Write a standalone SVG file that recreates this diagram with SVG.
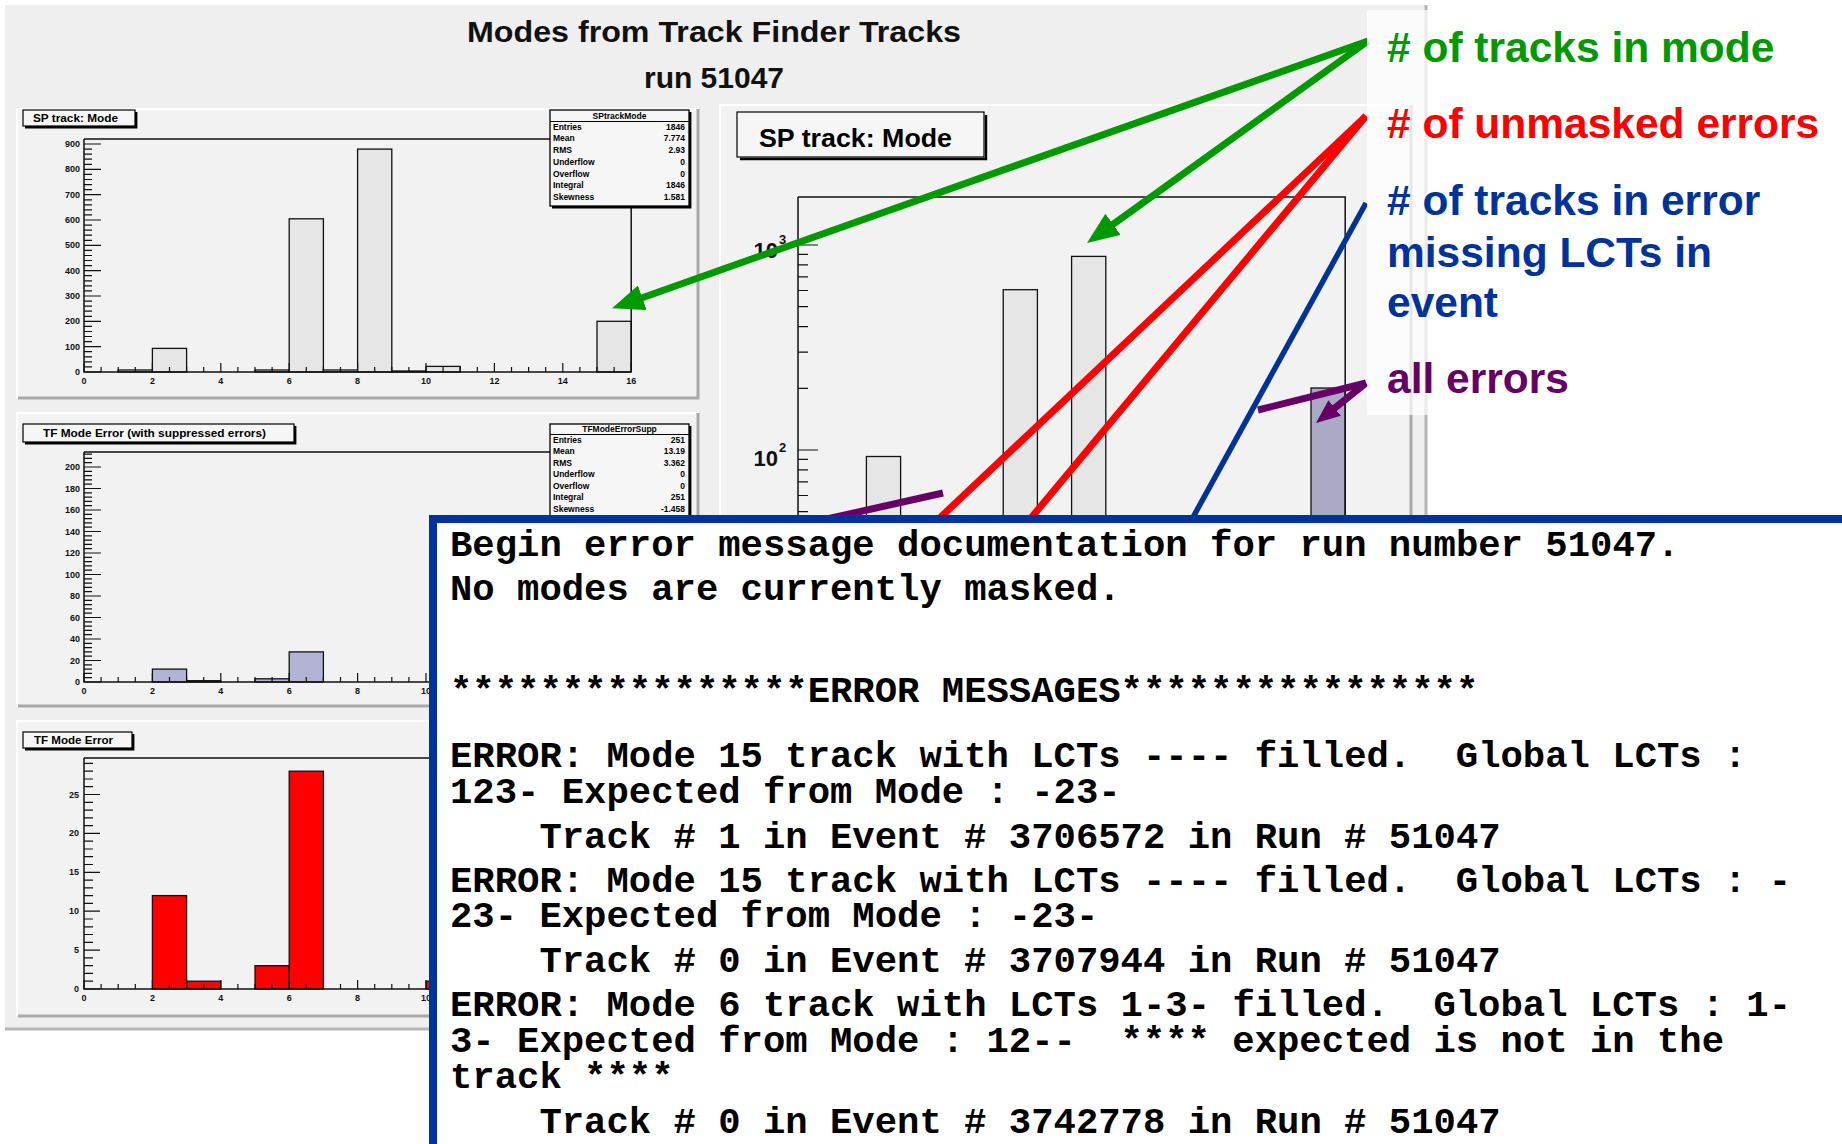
<svg xmlns="http://www.w3.org/2000/svg" xmlns:xlink="http://www.w3.org/1999/xlink" width="1842" height="1144" viewBox="0 0 1842 1144">
  <style>
    .pane { fill: #f2f2f2; }
    .hi { fill: none; stroke: #ffffff; stroke-width: 2; }
    .sh { fill: none; stroke: #a9a9a9; stroke-width: 3; }
    .tag { fill: #f6f6f6; stroke: #000; stroke-width: 1.2; }
    .tagsh { fill: none; stroke: #000; stroke-width: 2.4; }
    .tagtxt { font-family: "Liberation Sans", Arial, sans-serif; font-weight: bold; font-size: 11px; fill: #000; }
    .ax { fill: none; stroke: #111; stroke-width: 1.5; }
    .tk { fill: none; stroke: #111; stroke-width: 1.2; }
    .lbl { font-family: "Liberation Sans", Arial, sans-serif; font-weight: bold; font-size: 9px; fill: #111; }
    .ylbl { text-anchor: end; }
    .xlbl { text-anchor: middle; }
    .bar { stroke: #111; stroke-width: 1.3; }
    .gray { fill: #e6e6e6; }
    .lav { fill: #b3b3d3; }
    .lav2 { fill: #aaaac6; }
    .red { fill: #ff0000; }
    .stat { fill: #f6f6f6; stroke: #000; stroke-width: 1.3; }
    .sttxt { font-family: "Liberation Sans", Arial, sans-serif; font-weight: bold; font-size: 8.5px; fill: #000; }
    .conn { fill: none; stroke-linecap: butt; }
    .mono { font-family: "Liberation Mono", "Courier New", monospace; font-weight: bold; font-size: 37.25px; fill: #000; }
    .note { font-family: "Liberation Sans", Arial, sans-serif; font-weight: bold; font-size: 42.5px; }
    .head { font-family: "Liberation Sans", Arial, sans-serif; font-weight: bold; font-size: 30px; fill: #111; text-anchor: middle; }
  </style>
  <defs>
    <marker id="arrow-green" markerUnits="userSpaceOnUse" viewBox="0 0 32 26" markerWidth="32" markerHeight="26" refX="6" refY="13" orient="auto">
      <path d="M0,0 L32,13 L0,26 z" fill="#009900"/>
    </marker>
    <marker id="arrow-purple" markerUnits="userSpaceOnUse" viewBox="0 0 24 20" markerWidth="24" markerHeight="20" refX="4" refY="10" orient="auto">
      <path d="M0,0 L24,10 L0,20 z" fill="#660066"/>
    </marker>
    <!-- x axis ticks, 0..16 with a division every 0.5, axis line at y=0 -->
    <path id="xtk" class="tk" d="M84,0v-9 M152.4,0v-9 M220.8,0v-9 M289.2,0v-9 M357.6,0v-9 M426,0v-9 M494.4,0v-9 M562.8,0v-9 M631.2,0v-9
      M101.1,0v-5 M118.2,0v-5 M135.3,0v-5 M169.5,0v-5 M186.6,0v-5 M203.7,0v-5 M237.9,0v-5 M255,0v-5 M272.1,0v-5
      M306.3,0v-5 M323.4,0v-5 M340.5,0v-5 M374.7,0v-5 M391.8,0v-5 M408.9,0v-5 M443.1,0v-5 M460.2,0v-5 M477.3,0v-5
      M511.5,0v-5 M528.6,0v-5 M545.7,0v-5 M579.9,0v-5 M597,0v-5 M614.1,0v-5"/>
    <g id="xlab" class="lbl xlbl">
      <text x="84" y="0">0</text><text x="152.4" y="0">2</text><text x="220.8" y="0">4</text>
      <text x="289.2" y="0">6</text><text x="357.6" y="0">8</text><text x="426" y="0">10</text>
      <text x="494.4" y="0">12</text><text x="562.8" y="0">14</text><text x="631.2" y="0">16</text>
    </g>
  </defs>

  <rect x="0" y="0" width="1842" height="1144" fill="#ffffff"/>

  <!-- canvas background -->
  <g id="canvas">
    <rect x="5" y="5" width="1422" height="1025" fill="#efefef"/>
    <path d="M1426,5 V1030 M5,1029 H1427" fill="none" stroke="#b5b5b5" stroke-width="3"/>
    <text class="head" x="714" y="42" textLength="494" lengthAdjust="spacingAndGlyphs">Modes from Track Finder Tracks</text>
    <text class="head" x="714" y="88">run 51047</text>
  </g>

  <!-- pad 1: SP track mode, linear scale -->
  <g id="pad-sp-mode">
    <rect class="pane" x="17" y="108" width="681" height="291"/>
    <path class="hi" d="M17,398 V109 H698"/>
    <path class="sh" d="M18,398 H698 V109"/>
    <rect class="bar gray" x="118.2" y="370" width="34.2" height="2"/>
    <rect class="bar gray" x="152.4" y="348.4" width="34.2" height="23.6"/>
    <rect class="bar gray" x="255" y="370" width="34.2" height="2"/>
    <rect class="bar gray" x="289.2" y="218.8" width="34.2" height="153.2"/>
    <rect class="bar gray" x="323.4" y="370" width="34.2" height="2"/>
    <rect class="bar gray" x="357.6" y="149.1" width="34.2" height="222.9"/>
    <rect class="bar gray" x="391.8" y="371" width="34.2" height="1"/>
    <rect class="bar gray" x="426" y="366.4" width="34.2" height="5.6"/>
    <rect class="bar gray" x="597" y="321.3" width="34.2" height="50.7"/>
    <path class="ax" d="M84,139 H550 M631.2,206 V372 M84,139 V372 H631.2"/>
    <path class="tk" d="M84,372h17 M84,346.7h17 M84,321.3h17 M84,296h17 M84,270.7h17 M84,245.3h17 M84,220h17 M84,194.7h17 M84,169.3h17 M84,144h17
      M84,366.9h8 M84,361.9h8 M84,356.8h8 M84,351.7h8 M84,341.6h8 M84,336.5h8 M84,331.5h8 M84,326.4h8
      M84,316.3h8 M84,311.2h8 M84,306.1h8 M84,301.1h8 M84,290.9h8 M84,285.9h8 M84,280.8h8 M84,275.7h8
      M84,265.6h8 M84,260.5h8 M84,255.5h8 M84,250.4h8 M84,240.3h8 M84,235.2h8 M84,230.2h8 M84,225.1h8
      M84,214.9h8 M84,209.9h8 M84,204.8h8 M84,199.8h8 M84,189.6h8 M84,184.6h8 M84,179.5h8 M84,174.4h8
      M84,164.3h8 M84,159.2h8 M84,154.2h8 M84,149.1h8"/>
    <use xlink:href="#xtk" href="#xtk" y="372"/>
    <use xlink:href="#xlab" href="#xlab" y="384"/>
    <g class="lbl ylbl">
      <text x="80" y="375">0</text><text x="80" y="349.7">100</text><text x="80" y="324.3">200</text>
      <text x="80" y="299">300</text><text x="80" y="273.7">400</text><text x="80" y="248.3">500</text>
      <text x="80" y="223">600</text><text x="80" y="197.7">700</text><text x="80" y="172.3">800</text>
      <text x="80" y="147">900</text>
    </g>
    <path class="tagsh" d="M25,127.2 H136.2 V112"/>
    <rect class="tag" x="23" y="110" width="112" height="16"/>
    <text class="tagtxt" x="33" y="122" textLength="85" lengthAdjust="spacingAndGlyphs">SP track: Mode</text>
    <path class="tagsh" d="M552,207.2 H690.2 V112"/>
    <rect class="stat" x="550" y="110" width="139" height="96"/>
    <path d="M550,121.5 H689" stroke="#000" stroke-width="1"/>
    <text class="sttxt" x="619.5" y="119" text-anchor="middle">SPtrackMode</text>
    <g class="sttxt">
      <text x="553" y="129.5">Entries</text><text x="553" y="141.2">Mean</text><text x="553" y="153">RMS</text>
      <text x="553" y="164.7">Underflow</text><text x="553" y="176.5">Overflow</text><text x="553" y="188.2">Integral</text>
      <text x="553" y="200">Skewness</text>
    </g>
    <g class="sttxt" text-anchor="end">
      <text x="685" y="129.5">1846</text><text x="685" y="141.2">7.774</text><text x="685" y="153">2.93</text>
      <text x="685" y="164.7">0</text><text x="685" y="176.5">0</text><text x="685" y="188.2">1846</text>
      <text x="685" y="200">1.581</text>
    </g>
  </g>

  <!-- pad 2: TF mode error with suppressed errors -->
  <g id="pad-error-supp">
    <rect class="pane" x="17" y="412" width="681" height="295"/>
    <path class="hi" d="M17,706 V413 H698"/>
    <path class="sh" d="M18,706 H698 V413"/>
    <rect class="bar lav" x="152.4" y="669.1" width="34.2" height="12.9"/>
    <rect class="bar lav" x="186.6" y="680.7" width="34.2" height="1.3"/>
    <rect class="bar lav" x="255" y="678.8" width="34.2" height="3.2"/>
    <rect class="bar lav" x="289.2" y="651.9" width="34.2" height="30.1"/>
    <path class="ax" d="M84,452 H550 M84,452 V682 H631.2"/>
    <path class="tk" d="M84,682h17 M84,660.5h17 M84,639h17 M84,617.5h17 M84,596h17 M84,574.5h17 M84,553h17 M84,531.5h17 M84,510h17 M84,488.5h17 M84,467h17
      M84,677.7h8 M84,673.4h8 M84,669.1h8 M84,664.8h8 M84,656.2h8 M84,651.9h8 M84,647.6h8 M84,643.3h8
      M84,634.7h8 M84,630.4h8 M84,626.1h8 M84,621.8h8 M84,613.2h8 M84,608.9h8 M84,604.6h8 M84,600.3h8
      M84,591.7h8 M84,587.4h8 M84,583.1h8 M84,578.8h8 M84,570.2h8 M84,565.9h8 M84,561.6h8 M84,557.3h8
      M84,548.7h8 M84,544.4h8 M84,540.1h8 M84,535.8h8 M84,527.2h8 M84,522.9h8 M84,518.6h8 M84,514.3h8
      M84,505.7h8 M84,501.4h8 M84,497.1h8 M84,492.8h8 M84,484.2h8 M84,479.9h8 M84,475.6h8 M84,471.3h8
      M84,462.7h8 M84,458.4h8 M84,454.1h8"/>
    <use xlink:href="#xtk" href="#xtk" y="682"/>
    <use xlink:href="#xlab" href="#xlab" y="694"/>
    <g class="lbl ylbl">
      <text x="80" y="685">0</text><text x="80" y="663.5">20</text><text x="80" y="642">40</text>
      <text x="80" y="620.5">60</text><text x="80" y="599">80</text><text x="80" y="577.5">100</text>
      <text x="80" y="556">120</text><text x="80" y="534.5">140</text><text x="80" y="513">160</text>
      <text x="80" y="491.5">180</text><text x="80" y="470">200</text>
    </g>
    <path class="tagsh" d="M25,443.2 H295.2 V426"/>
    <rect class="tag" x="23" y="424" width="271" height="18"/>
    <text class="tagtxt" x="43" y="437" textLength="223" lengthAdjust="spacingAndGlyphs">TF Mode Error (with suppressed errors)</text>
    <path class="tagsh" d="M552,532 H690.2 V426"/>
    <rect class="stat" x="550" y="424" width="139" height="106"/>
    <path d="M550,434.5 H689" stroke="#000" stroke-width="1"/>
    <text class="sttxt" x="619.5" y="432" text-anchor="middle">TFModeErrorSupp</text>
    <g class="sttxt">
      <text x="553" y="442.5">Entries</text><text x="553" y="454">Mean</text><text x="553" y="465.6">RMS</text>
      <text x="553" y="477.2">Underflow</text><text x="553" y="488.8">Overflow</text><text x="553" y="500.4">Integral</text>
      <text x="553" y="512">Skewness</text>
    </g>
    <g class="sttxt" text-anchor="end">
      <text x="685" y="442.5">251</text><text x="685" y="454">13.19</text><text x="685" y="465.6">3.362</text>
      <text x="685" y="477.2">0</text><text x="685" y="488.8">0</text><text x="685" y="500.4">251</text>
      <text x="685" y="512">-1.458</text>
    </g>
  </g>

  <!-- pad 3: TF mode error -->
  <g id="pad-error">
    <rect class="pane" x="17" y="720" width="681" height="297"/>
    <path class="hi" d="M17,1016 V721 H698"/>
    <path class="sh" d="M18,1016 H698 V721"/>
    <rect class="bar red" x="152.4" y="895.6" width="34.2" height="93.4"/>
    <rect class="bar red" x="186.6" y="981.2" width="34.2" height="7.8"/>
    <rect class="bar red" x="255" y="965.7" width="34.2" height="23.3"/>
    <rect class="bar red" x="289.2" y="771.2" width="34.2" height="217.8"/>
    <rect class="bar red" x="426" y="981.2" width="34.2" height="7.8"/>
    <path class="ax" d="M84,758 H640 M84,758 V989 H631.2"/>
    <path class="tk" d="M84,989h16 M84,950.1h16 M84,911.2h16 M84,872.3h16 M84,833.4h16 M84,794.5h16
      M84,981.2h9 M84,973.4h9 M84,965.7h9 M84,957.9h9 M84,942.3h9 M84,934.5h9 M84,926.8h9 M84,919h9
      M84,903.4h9 M84,895.6h9 M84,887.9h9 M84,880.1h9 M84,864.5h9 M84,856.7h9 M84,849h9 M84,841.2h9
      M84,825.6h9 M84,817.8h9 M84,810.1h9 M84,802.3h9 M84,786.7h9 M84,779h9 M84,771.2h9 M84,763.4h9"/>
    <use xlink:href="#xtk" href="#xtk" y="989"/>
    <use xlink:href="#xlab" href="#xlab" y="1001"/>
    <g class="lbl ylbl">
      <text x="79" y="992">0</text><text x="79" y="953.1">5</text><text x="79" y="914.2">10</text>
      <text x="79" y="875.3">15</text><text x="79" y="836.4">20</text><text x="79" y="797.5">25</text>
    </g>
    <path class="tagsh" d="M25,749.2 H133.2 V734"/>
    <rect class="tag" x="23" y="732" width="109" height="16"/>
    <text class="tagtxt" x="34" y="744" textLength="79" lengthAdjust="spacingAndGlyphs">TF Mode Error</text>
  </g>

  <!-- pad 4: SP track mode, log scale -->
  <g id="pad-sp-mode-log">
    <rect class="pane" x="720" y="104" width="691" height="926"/>
    <path class="hi" d="M720,1030 V105 H1411"/>
    <path class="sh" d="M1411,105 V1030"/>
    <rect class="bar gray" x="866.4" y="456.5" width="34.2" height="80"/>
    <rect class="bar gray" x="1003.2" y="289.7" width="34.2" height="250"/>
    <rect class="bar gray" x="1071.6" y="256.4" width="34.2" height="280"/>
    <rect class="bar lav2" x="1311" y="388" width="34.2" height="150"/>
    <path class="ax" d="M798,197 H1345.2 V540 M798,197 V540"/>
    <path class="tk" d="M798,245h20 M798,450h20
      M798,388.3h10 M798,352.2h10 M798,326.6h10 M798,306.7h10 M798,290.5h10 M798,276.8h10 M798,264.9h10 M798,254.4h10
      M798,459.4h10 M798,469.9h10 M798,481.8h10 M798,495.5h10 M798,511.7h10"/>
    <g font-family="Liberation Sans, Arial, sans-serif" font-weight="bold" fill="#111">
      <text x="778" y="258" font-size="22" text-anchor="end">10</text>
      <text x="779" y="244" font-size="13">3</text>
      <text x="778" y="466" font-size="22" text-anchor="end">10</text>
      <text x="779" y="452" font-size="13">2</text>
    </g>
    <path class="tagsh" d="M740,159 H986 V115"/>
    <rect class="tag" x="737" y="112" width="247" height="45" stroke-width="1.5"/>
    <text x="759" y="147" font-family="Liberation Sans, Arial, sans-serif" font-weight="bold" font-size="26" fill="#000" textLength="193" lengthAdjust="spacingAndGlyphs">SP track: Mode</text>
  </g>

  <!-- pointer lines from the legend notes -->
  <g id="connectors" class="conn">
    <path d="M1368,41 L636.6,299.7" stroke="#009900" stroke-width="7" marker-end="url(#arrow-green)"/>
    <path d="M1368,41 L1108.1,227.8" stroke="#009900" stroke-width="7" marker-end="url(#arrow-green)"/>
    <path d="M1366,116 L927,530" stroke="#ff0000" stroke-width="7"/>
    <path d="M1366,116 L1021,530" stroke="#ff0000" stroke-width="7"/>
    <path d="M1366,203 L1186,530" stroke="#003399" stroke-width="5.5"/>
    <path d="M1366,383 L1258,410" stroke="#660066" stroke-width="7"/>
    <path d="M943,493 L800,525" stroke="#660066" stroke-width="7"/>
    <path d="M1366,383 L1331.6,410.5" stroke="#660066" stroke-width="7" marker-end="url(#arrow-purple)"/>
  </g>

  <!-- legend notes -->
  <g id="notes">
    <rect x="1367" y="10" width="475" height="405" fill="#ffffff" fill-opacity="0.72"/>
    <text class="note" x="1387" y="62" fill="#009900"># of tracks in mode</text>
    <text class="note" x="1387" y="138" fill="#ff0000"># of unmasked errors</text>
    <text class="note" x="1387" y="215" fill="#003399"># of tracks in error</text>
    <text class="note" x="1387" y="267" fill="#003399">missing LCTs in</text>
    <text class="note" x="1387" y="317" fill="#003399">event</text>
    <text class="note" x="1387" y="393" fill="#660066">all errors</text>
  </g>

  <!-- error message log; monospace cells are 22.35px wide, so columns are placed explicitly -->
  <g id="error-log">
    <rect x="433" y="519" width="1430" height="650" fill="#ffffff" stroke="#003399" stroke-width="8"/>
    <g class="mono">
      <text x="450" y="556">Begin error message documentation for run number 51047.</text>
      <text x="450" y="600">No modes are currently masked.</text>
      <text x="450" y="702">****************ERROR MESSAGES****************</text>
      <text x="450" y="767">ERROR: Mode 15 track with LCTs ---- filled.<tspan x="1455.8">Global LCTs :</tspan></text>
      <text x="450" y="803">123- Expected from Mode : -23-</text>
      <text x="539.4" y="848">Track # 1 in Event # 3706572 in Run # 51047</text>
      <text x="450" y="892">ERROR: Mode 15 track with LCTs ---- filled.<tspan x="1455.8">Global LCTs : -</tspan></text>
      <text x="450" y="927">23- Expected from Mode : -23-</text>
      <text x="539.4" y="972">Track # 0 in Event # 3707944 in Run # 51047</text>
      <text x="450" y="1016">ERROR: Mode 6 track with LCTs 1-3- filled.<tspan x="1433.4">Global LCTs : 1-</tspan></text>
      <text x="450" y="1052">3- Expected from Mode : 12--<tspan x="1120.5">**** expected is not in the</tspan></text>
      <text x="450" y="1088">track ****</text>
      <text x="539.4" y="1133">Track # 0 in Event # 3742778 in Run # 51047</text>
    </g>
  </g>
</svg>
